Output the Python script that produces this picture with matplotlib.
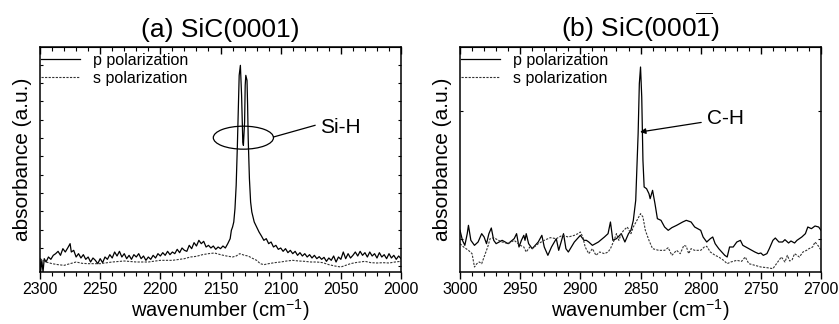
import numpy as np
import matplotlib
matplotlib.use('Agg')
import matplotlib.pyplot as plt
from matplotlib.patches import Ellipse
from matplotlib.ticker import MultipleLocator, FixedLocator

plt.rcParams['font.family'] = ['Liberation Sans', 'DejaVu Sans']
plt.rcParams['mathtext.fontset'] = 'custom'
plt.rcParams['mathtext.rm'] = 'Liberation Sans'
plt.rcParams['mathtext.it'] = 'Liberation Sans:italic'

# (a) SiC(0001), Si-H region
wn_a_p = [2300, 2299.5, 2298.5, 2297.5, 2296.5, 2295, 2293, 2291, 2289, 2287, 2285, 2283, 2281, 2279,
          2277, 2275, 2274, 2272, 2270, 2268, 2266, 2264, 2262, 2260, 2258, 2256, 2254, 2252, 2250,
          2248, 2246, 2244, 2242, 2240, 2238, 2236, 2234, 2232, 2230, 2228, 2226, 2224, 2222, 2220,
          2218, 2216, 2214, 2212, 2210, 2208, 2206, 2204, 2202, 2200, 2198, 2196, 2194, 2192, 2190,
          2188, 2186, 2184, 2182, 2180, 2178, 2176, 2174, 2172, 2170, 2168, 2166, 2164, 2162, 2160,
          2158, 2156, 2154, 2152, 2150, 2148, 2146, 2144, 2142, 2141, 2140, 2139, 2138, 2137, 2136,
          2135, 2134.5, 2133.5, 2132.5, 2131.5, 2131, 2130, 2129.5, 2129, 2128, 2127.5, 2127, 2126,
          2125, 2124, 2122, 2120, 2118, 2116, 2114, 2112, 2110, 2108, 2106, 2104, 2102, 2100, 2098,
          2096, 2094, 2092, 2090, 2088, 2086, 2084, 2082, 2080, 2078, 2076, 2074, 2072, 2070, 2068,
          2066, 2064, 2062, 2060, 2058, 2056, 2054, 2052, 2050, 2048, 2046, 2044, 2042, 2040, 2038,
          2036, 2034, 2032, 2030, 2028, 2026, 2024, 2022, 2020, 2018, 2016, 2014, 2012, 2010, 2008,
          2006, 2004, 2002, 2000]
abs_a_p = [40, 0, 35, 0, 40, 30, 45, 38, 50, 55, 62, 50, 70, 60,
           72, 85, 60, 65, 45, 55, 42, 52, 38, 45, 30, 42, 35, 25, 40,
           28, 45, 38, 52, 42, 60, 48, 62, 45, 55, 40, 50, 38, 52, 45,
           55, 40, 48, 35, 45, 38, 50, 42, 55, 48, 58, 50, 62, 52, 60,
           55, 68, 58, 72, 65, 62, 80, 70, 88, 78, 95, 85, 92, 75, 80,
           72, 78, 68, 75, 70, 78, 72, 85, 100, 125, 135, 150, 190, 260, 380,
           520, 590, 620, 530, 390, 380, 450, 560, 590, 575, 500, 400, 280,
           210, 180, 150, 135, 120, 108, 95, 100, 85, 90, 75, 80, 68, 72, 62,
           70, 58, 65, 55, 62, 50, 58, 48, 55, 45, 52, 42, 50, 40, 46,
           38, 44, 32, 42, 35, 48, 30, 45, 38, 60, 40, 55, 42, 50, 60,
           48, 62, 50, 58, 45, 60, 48, 55, 42, 58, 45, 52, 40, 55, 42,
           50, 38, 48, 40]

wn_a_s = [2300, 2295, 2290, 2285, 2280, 2275, 2270, 2265, 2260, 2250, 2240, 2230, 2220, 2210, 2200,
          2190, 2180, 2175, 2170, 2165, 2160, 2155, 2150, 2145, 2140, 2137, 2134, 2130, 2127, 2124,
          2120, 2117, 2114, 2110, 2105, 2100, 2095, 2090, 2085, 2080, 2075, 2070, 2065, 2060, 2055,
          2050, 2046, 2042, 2038, 2034, 2030, 2025, 2020, 2015, 2010, 2005, 2000]
abs_a_s = [40, 30, 25, 22, 20, 25, 30, 26, 25, 25, 30, 33, 30, 30, 35,
           35, 40, 45, 47, 52, 55, 57, 52, 48, 45, 48, 55, 50, 48, 42,
           35, 25, 22, 25, 28, 30, 33, 35, 33, 32, 30, 30, 28, 22, 18,
           15, 20, 25, 28, 30, 32, 28, 27, 28, 27, 30, 32]

# (b) SiC(000-1), C-H region
wn_b_p = [3000, 2998, 2996, 2994, 2993, 2991, 2988, 2985, 2982, 2980, 2978, 2976, 2974, 2972, 2970,
          2965, 2960, 2955, 2953, 2951, 2949, 2947, 2946, 2945, 2943, 2940, 2935, 2932, 2930, 2927,
          2924, 2920, 2918, 2916, 2914, 2912, 2910, 2905, 2900, 2897, 2895, 2893, 2890, 2885, 2880,
          2877, 2875, 2873, 2870, 2866, 2863, 2860, 2858, 2856, 2854, 2852, 2851, 2850, 2849, 2848,
          2847, 2845, 2843, 2842, 2840, 2838, 2836, 2833, 2830, 2827, 2824, 2820, 2815, 2812, 2808,
          2805, 2800, 2798, 2795, 2792, 2790, 2788, 2785, 2780, 2778, 2776, 2773, 2770, 2767, 2765,
          2760, 2755, 2752, 2750, 2748, 2745, 2743, 2740, 2738, 2735, 2732, 2730, 2727, 2725, 2722,
          2720, 2716, 2713, 2711, 2708, 2705, 2702, 2700]
abs_b_p = [125, 95, 80, 115, 140, 95, 80, 90, 115, 105, 85, 115, 132, 95, 85,
           95, 85, 100, 115, 75, 95, 110, 95, 115, 85, 70, 90, 110, 75, 50,
           75, 100, 65, 90, 115, 70, 60, 90, 110, 95, 95, 90, 80, 90, 105,
           115, 150, 95, 100, 115, 90, 115, 125, 155, 215, 415, 565, 615, 525, 335,
           255, 250, 235, 220, 245, 205, 160, 155, 135, 125, 133, 140, 150, 155, 150,
           135, 125, 105, 90, 100, 105, 85, 70, 50, 45, 75, 75, 90, 95, 80,
           70, 60, 55, 57, 50, 55, 70, 95, 102, 90, 90, 97, 87, 93, 87,
           95, 105, 115, 135, 130, 138, 135, 125]

wn_b_s = [3000, 2997, 2995, 2993, 2990, 2988, 2986, 2984, 2982, 2980, 2977, 2975, 2972, 2968, 2965,
          2960, 2955, 2950, 2947, 2945, 2942, 2940, 2935, 2930, 2925, 2920, 2915, 2910, 2905, 2902,
          2900, 2898, 2896, 2893, 2890, 2887, 2884, 2880, 2877, 2875, 2872, 2870, 2868, 2866, 2864,
          2861, 2858, 2856, 2853, 2850, 2848, 2846, 2843, 2840, 2835, 2830, 2827, 2824, 2820, 2817,
          2814, 2812, 2810, 2808, 2805, 2800, 2797, 2795, 2792, 2788, 2785, 2781, 2778, 2775, 2770,
          2766, 2763, 2760, 2755, 2750, 2745, 2740, 2738, 2735, 2733, 2730, 2728, 2726, 2724, 2722,
          2720, 2718, 2715, 2712, 2710, 2707, 2705, 2702, 2700]
abs_b_s = [85, 75, 70, 65, 55, 15, 25, 30, 25, 45, 75, 100, 103, 95, 90,
           85, 95, 80, 75, 60, 75, 70, 85, 95, 103, 100, 110, 105, 110, 115,
           120, 105, 75, 55, 70, 50, 60, 55, 60, 70, 95, 115, 95, 115, 125,
           135, 115, 135, 155, 175, 165, 125, 95, 70, 65, 65, 73, 50, 65, 55,
           80, 77, 55, 70, 65, 65, 75, 77, 60, 50, 45, 35, 25, 30, 35,
           32, 45, 25, 20, 15, 13, 10, 20, 35, 45, 30, 50, 33, 37, 55,
           50, 45, 60, 65, 70, 75, 90, 77, 65]

fig = plt.figure(figsize=(8.39, 3.24), dpi=100)
ax1 = fig.add_axes([0.0477, 0.1605, 0.4303, 0.6944])
ax2 = fig.add_axes([0.5483, 0.1605, 0.4303, 0.6944])

panels = [
    (ax1, wn_a_p, abs_a_p, wn_a_s, abs_a_s, (2300, 2000), '(a) SiC(0001)'),
    (ax2, wn_b_p, abs_b_p, wn_b_s, abs_b_s, (3000, 2700), r'(b) SiC(000$\overline{\mathregular{1}}$)'),
]

for ax, xp, yp, xs, ys, xl, title in panels:
    ax.plot(xp, yp, color='black', lw=0.9, label='p polarization')
    ax.plot(xs, ys, color='#333333', lw=0.8, ls=(0, (2, 1.2)), label='s polarization')
    ax.set_xlim(*xl)
    ax.set_ylim(0, 675)
    ax.xaxis.set_major_locator(MultipleLocator(50))
    ax.xaxis.set_minor_locator(MultipleLocator(10))
    ax.tick_params(axis='x', which='major', direction='out', length=5, width=1, labelsize=11.5, pad=2)
    ax.tick_params(axis='x', which='minor', direction='out', length=3, width=0.8)
    ax.set_yticklabels([])
    ax.tick_params(axis='y', which='both', direction='in', length=2.5, width=0.8,
                   left=True, right=True, labelleft=False)
    for sp in ax.spines.values():
        sp.set_linewidth(1.1)
    # top axis ticks point inward
    top = ax.secondary_xaxis('top')
    top.xaxis.set_major_locator(MultipleLocator(50))
    top.xaxis.set_minor_locator(MultipleLocator(10))
    top.tick_params(axis='x', which='major', direction='in', length=5, width=1, labeltop=False)
    top.tick_params(axis='x', which='minor', direction='in', length=3, width=0.8)
    top.set_xticklabels([])
    ax.set_title(title, fontsize=19, pad=7)
    ax.set_xlabel(r'wavenumber (cm$^{\mathregular{-1}}$)', fontsize=14.5, labelpad=0)
    ax.set_ylabel('absorbance (a.u.)', fontsize=15, labelpad=6)
    ax.legend(loc='upper left', bbox_to_anchor=(0.004, 0.975), frameon=False, fontsize=11.5,
              handlelength=2.4, handletextpad=0.8, labelspacing=0.2, borderpad=0, borderaxespad=0)

ax1.yaxis.set_major_locator(FixedLocator([17 + 55 * k for k in range(12)]))
ax2.yaxis.set_major_locator(FixedLocator([99, 483]))

# Si-H marker
ax1.add_patch(Ellipse((2131, 403), 50, 69, fill=False, lw=0.9, color='black'))
ax1.plot([2106, 2071.5], [405, 440], color='black', lw=0.9)
ax1.text(2067.3, 435, 'Si-H', fontsize=15, ha='left', va='center')

# C-H arrow
ax2.annotate('C-H', xy=(2850.4, 420), xytext=(2795, 460), fontsize=15, ha='left', va='center',
             arrowprops=dict(arrowstyle='-|>', color='black', lw=0.9, mutation_scale=8,
                             shrinkA=2, shrinkB=0))

fig.savefig('out.png', dpi=100)
